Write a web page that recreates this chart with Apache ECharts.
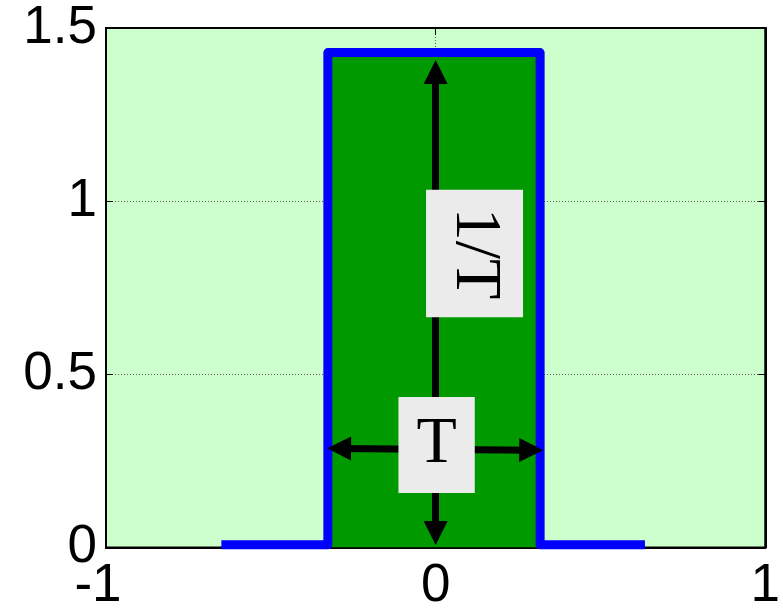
<!DOCTYPE html>
<html>
<head>
<meta charset="utf-8">
<script src="https://cdn.jsdelivr.net/npm/echarts@6/dist/echarts.min.js"></script>
<style>
  html, body { margin: 0; padding: 0; background: #ffffff; }
  #chart { width: 783px; height: 613px; }
</style>
</head>
<body>
<div id="chart"></div>
<script>
// Rectangular pulse of width T and height 1/T
const pulseX = [-0.65, -0.327, -0.327, 0.317, 0.317, 0.635];
const pulseY = [0.008, 0.008, 1.429, 1.429, 0.008, 0.008];

// Filled area under the pulse top
const areaX = [-0.327, 0.317];
const areaY = [1.429, 1.429];

// Double-headed arrows: [x1, y1, x2, y2]
const widthArrow = [-0.293, 0.286, 0.290, 0.281];
const heightArrow = [0, 1.373, 0, 0.042];

// Annotation labels: text and anchor position
const labelTexts = ['1/T', 'T'];
const labelX = [0.118, 0.003];
const labelY = [0.849, 0.296];

// Axis tick settings
const xRange = [-1, 1];
const yRange = [0, 1.5];
const xStep = 1;
const yStep = 0.5;

const zip = (a, b) => a.map((v, i) => [v, b[i]]);

const chart = echarts.init(document.getElementById('chart'), null, { renderer: 'canvas' });

const labelFont = 'Liberation Sans, Arial, sans-serif';
const serifFont = 'Liberation Serif, Times New Roman, serif';

const gridLine = { show: true, lineStyle: { color: '#333', width: 0.8, type: [1, 2] } };

function boxLabel(i, rotate, padding) {
  return {
    type: 'scatter',
    data: [[labelX[i], labelY[i]]],
    symbolSize: 1,
    itemStyle: { color: 'rgba(0,0,0,0)', opacity: 1 },
    z: 5,
    zlevel: 1,
    label: {
      show: true, position: 'inside',
      formatter: labelTexts[i],
      rotate: rotate,
      opacity: 1,
      color: '#000', fontSize: 66, fontFamily: serifFont, lineHeight: 64,
      backgroundColor: '#ebebeb',
      padding: padding
    },
    emphasis: { disabled: true }
  };
}

chart.setOption({
  backgroundColor: '#ffffff',
  animation: false,
  grid: {
    left: 106, right: 14, top: 28, bottom: 65.5,
    show: true,
    backgroundColor: '#ccffcc',
    borderColor: '#000',
    borderWidth: 2
  },
  xAxis: [{
    type: 'value',
    min: xRange[0], max: xRange[1], interval: xStep,
    axisLine: { show: true, onZero: false, lineStyle: { color: '#000', width: 2 } },
    axisTick: { show: true, inside: true, length: 7, lineStyle: { color: '#000', width: 1 } },
    axisLabel: {
      margin: 12,
      color: '#000',
      fontSize: 53,
      fontFamily: labelFont,
      formatter: v => (v === -1 ? '{n|-1}' : String(v)),
      rich: { n: { fontSize: 53, fontFamily: labelFont, color: '#000', padding: [0, 16, 0, 0] } }
    },
    splitLine: gridLine
  }, {
    type: 'value', position: 'top',
    min: xRange[0], max: xRange[1], interval: xStep,
    axisLine: { show: true, onZero: false, lineStyle: { color: '#000', width: 2 } },
    axisTick: { show: true, inside: true, length: 7, lineStyle: { color: '#000', width: 1 } },
    axisLabel: { show: false },
    splitLine: { show: false }
  }],
  yAxis: [{
    type: 'value',
    min: yRange[0], max: yRange[1], interval: yStep,
    axisLine: { show: true, onZero: false, lineStyle: { color: '#000', width: 2 } },
    axisTick: { show: true, inside: true, length: 7, lineStyle: { color: '#000', width: 1 } },
    axisLabel: { margin: 9, color: '#000', fontSize: 53, fontFamily: labelFont },
    splitLine: gridLine
  }, {
    type: 'value', position: 'right',
    min: yRange[0], max: yRange[1], interval: yStep,
    axisLine: { show: true, onZero: false, lineStyle: { color: '#000', width: 2 } },
    axisTick: { show: true, inside: true, length: 7, lineStyle: { color: '#000', width: 1 } },
    axisLabel: { show: false },
    splitLine: { show: false }
  }],
  series: [
    {
      // dark green filled region under the pulse
      type: 'line',
      data: zip(areaX, areaY),
      showSymbol: false,
      lineStyle: { width: 0 },
      areaStyle: { color: '#009900', opacity: 1, origin: 'start' },
      z: 2
    },
    {
      // arrows marking width and height
      type: 'line',
      data: [],
      z: 3,
      markLine: {
        silent: true,
        symbol: ['triangle', 'triangle'],
        symbolSize: [24, 24],
        label: { show: false },
        lineStyle: { color: '#000', width: 7, type: 'solid' },
        data: [
          [{ coord: [widthArrow[0], widthArrow[1]] }, { coord: [widthArrow[2], widthArrow[3]] }],
          [{ coord: [heightArrow[0], heightArrow[1]] }, { coord: [heightArrow[2], heightArrow[3]] }]
        ]
      }
    },
    {
      // the pulse outline
      type: 'line',
      data: zip(pulseX, pulseY),
      showSymbol: false,
      lineStyle: { color: '#0000ff', width: 9, join: 'round', cap: 'butt' },
      z: 4
    },
    boxLabel(0, -90, [16, 18, 17, 18]),
    boxLabel(1, 0, [16, 18, 16, 18])
  ]
});
</script>
</body>
</html>
